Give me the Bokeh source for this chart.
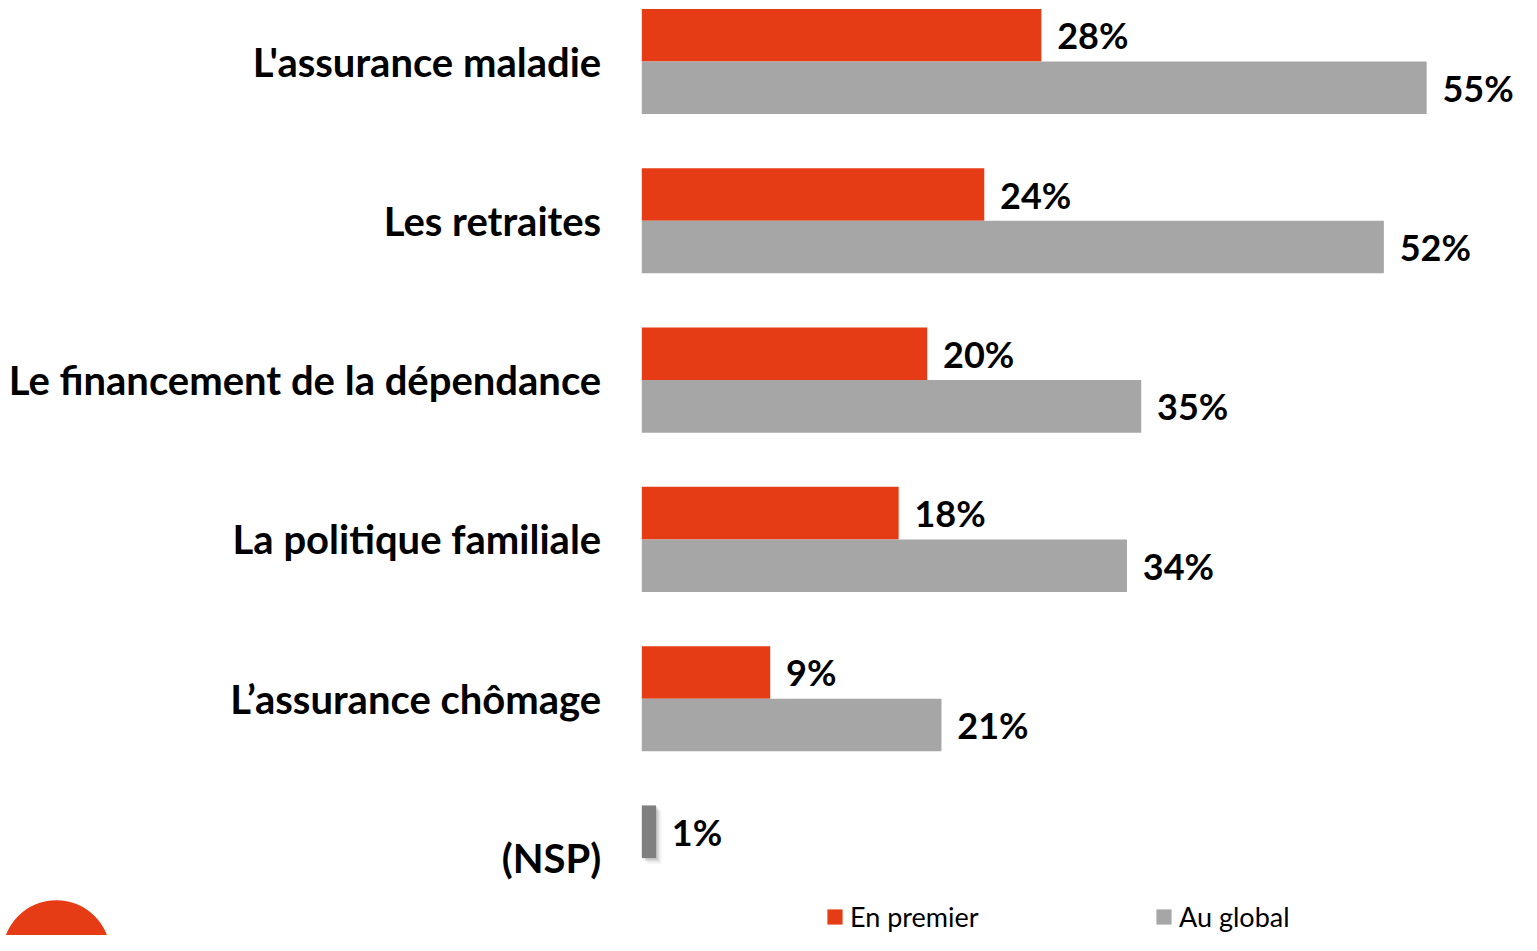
from bokeh.plotting import figure
from bokeh.models import Range1d, ColumnDataSource, Legend, LegendItem
from bokeh.core.properties import value
from bokeh.embed import file_html
from bokeh.resources import INLINE

# ---------------- data ----------------
categories = ["L'assurance maladie", "Les retraites", "Le financement de la dépendance",
              "La politique familiale", "L’assurance chômage", "(NSP)"]
en_premier = [28, 24, 20, 18, 9]
au_global = [55, 52, 35, 34, 21]
nsp_value = [1]
series_names = ["En premier", "Au global"]

# ---------------- styling / layout ----------------
RED = "#E53C16"
GREY = "#A6A6A6"
DARK = "#7F7F7F"
W, H = 1521, 935
PX_PER_PCT = 14.27
ZERO_PX = 641.3        # figure x of the 0% line
GROUP_PX = 159.3       # distance between groups
TOP_PX = 61.0          # figure top -> first group centre
BAR_H = 0.33
OFF = 0.165
FONT = "Lato"

p = figure(width=W, height=H, output_backend="svg", toolbar_location=None,
           x_range=Range1d(-ZERO_PX / PX_PER_PCT, (W - ZERO_PX) / PX_PER_PCT),
           y_range=Range1d(-(H - TOP_PX) / GROUP_PX, TOP_PX / GROUP_PX),
           min_border=0)
p.axis.visible = False
p.grid.visible = False
p.outline_line_color = None
p.background_fill_color = "white"
p.border_fill_color = "white"

n = len(en_premier)
ys = [-i for i in range(n)]
lab_dx = 15.8 / PX_PER_PCT
src = ColumnDataSource(dict(
    y_red=[y + OFF for y in ys], y_grey=[y - OFF for y in ys],
    first=en_premier, total=au_global,
    lab_first=[f"{v}%" for v in en_premier], lab_total=[f"{v}%" for v in au_global],
    x_lab_first=[v + lab_dx for v in en_premier],
    x_lab_total=[v + lab_dx for v in au_global],
))

r_red = p.hbar(y="y_red", left=0, right="first", height=BAR_H, source=src,
               fill_color=RED, line_color=None)
r_grey = p.hbar(y="y_grey", left=0, right="total", height=BAR_H, source=src,
                fill_color=GREY, line_color=None)

# NSP bar with a soft shadow
nsp_y = -n + OFF
for k, a in [(1, 0.10), (2, 0.07), (3, 0.05), (4, 0.03)]:
    p.hbar(y=[nsp_y - k * 1.5 / GROUP_PX], left=0.1 * k, right=[nsp_value[0] + 0.1 * k],
           height=BAR_H, fill_color="black", fill_alpha=a, line_color=None)
r_nsp = p.hbar(y=[nsp_y], left=0, right=nsp_value, height=BAR_H,
               fill_color=DARK, line_color=None)

# value labels
lab_kw = dict(text_font=value(FONT), text_font_style="bold", text_font_size="36px",
              text_color="black", text_align="left", text_baseline="middle")
p.text(x="x_lab_first", y="y_red", text="lab_first", source=src, **lab_kw)
p.text(x="x_lab_total", y="y_grey", text="lab_total", source=src, **lab_kw)
p.text(x=[nsp_value[0] + lab_dx], y=[nsp_y], text=[f"{nsp_value[0]}%"], **lab_kw)

# category labels
p.text(x=[(600.7 - ZERO_PX) / PX_PER_PCT] * len(categories),
       y=[-i for i in range(len(categories))],
       text=categories, text_font=value(FONT), text_font_style="bold",
       text_font_size="40px", text_color="black", text_align="right",
       text_baseline="middle")

# decorative logo circle bottom-left
p.circle(x=[(55.9 - ZERO_PX) / PX_PER_PCT], y=[-(953.7 - TOP_PX) / GROUP_PX],
         radius=54, radius_units="screen", fill_color=RED, line_color=None)

# legends
for name, rend, xloc in [(series_names[0], r_red, 825), (series_names[1], r_grey, 1154)]:
    lg = Legend(items=[LegendItem(label=name, renderers=[rend])], location=(xloc, 2),
                padding=0, margin=0, border_line_color=None, background_fill_alpha=0,
                glyph_width=19, glyph_height=19, label_standoff=6,
                label_text_font=FONT, label_text_font_size="27px",
                label_text_color="black", label_height=30)
    p.add_layout(lg)

open("out.html", "w").write(file_html(p, INLINE))
